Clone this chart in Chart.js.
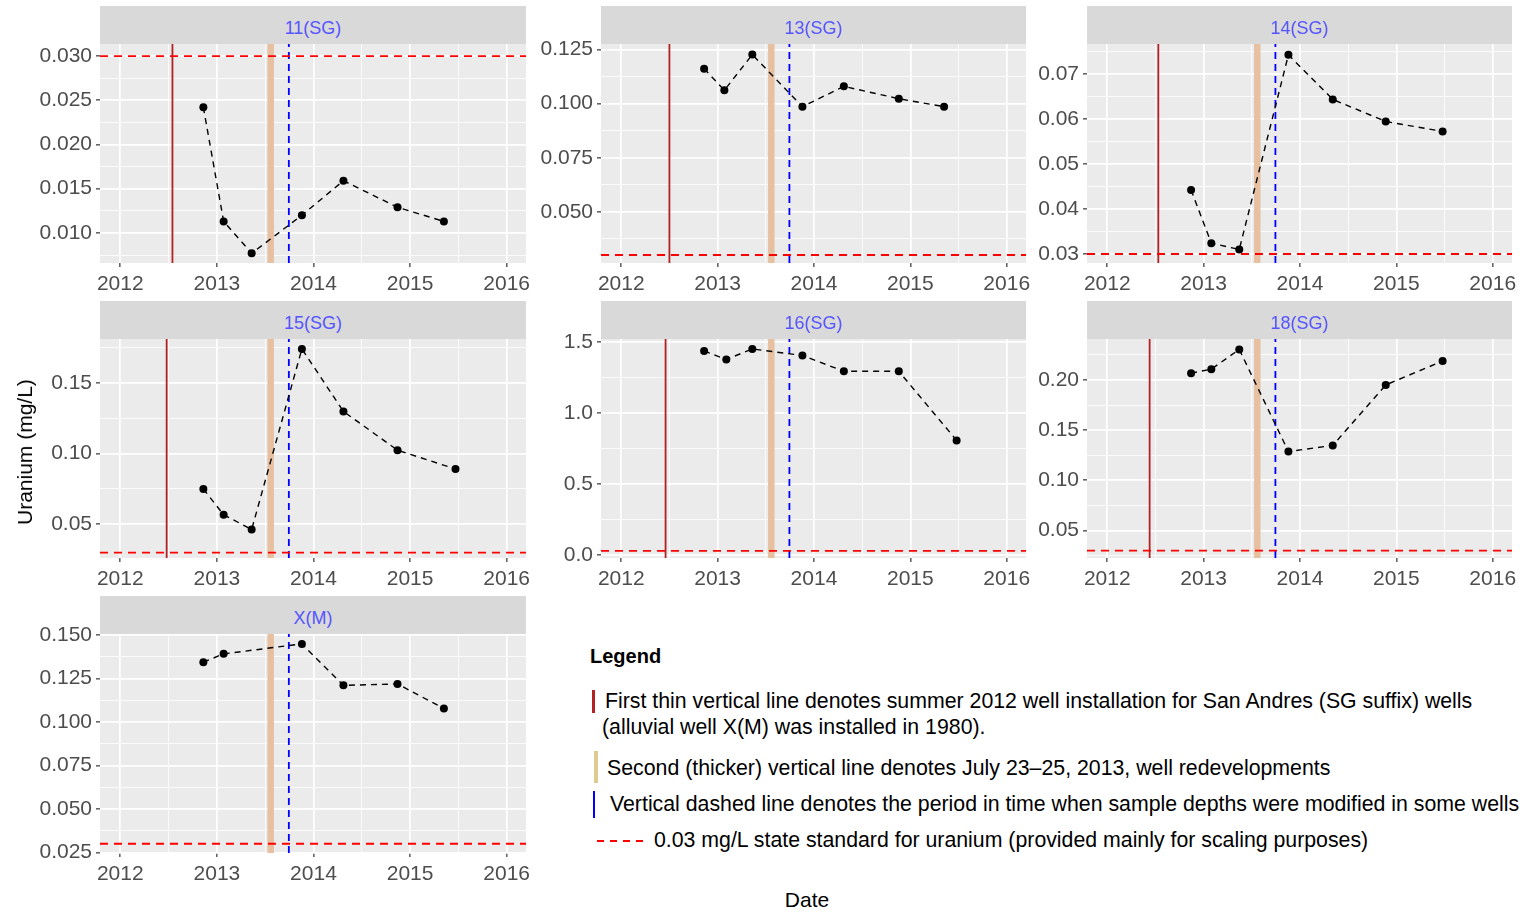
<!DOCTYPE html>
<html>
<head>
<meta charset="utf-8">
<script src="https://cdn.jsdelivr.net/npm/chart.js@4/dist/chart.umd.min.js"></script>
<style>
  body { margin: 0; background: #fff; width: 1526px; height: 913px; position: relative; overflow: hidden;
         font-family: "Liberation Sans", Arial, sans-serif; }
  canvas { position: absolute; }
  .strip { position: absolute; height: 38px; background: #d9d9d9; color: #5555ff; font-size: 18px;
           text-align: center; line-height: 44px; }
  .txt { position: absolute; white-space: nowrap; color: #000; font-size: 21.3px; line-height: 24px; }
  .bar { position: absolute; }
</style>
</head>
<body>
<canvas id="c0" width="530" height="300" style="left:0;top:0"></canvas>
<canvas id="c1" width="500" height="300" style="left:530px;top:0"></canvas>
<canvas id="c2" width="496" height="300" style="left:1030px;top:0"></canvas>
<canvas id="c3" width="530" height="300" style="left:0;top:295px"></canvas>
<canvas id="c4" width="500" height="300" style="left:530px;top:295px"></canvas>
<canvas id="c5" width="496" height="300" style="left:1030px;top:295px"></canvas>
<canvas id="c6" width="530" height="300" style="left:0;top:590px"></canvas>

<div class="txt" style="left:25px;top:452px;font-size:21px;transform:translate(-50%,-50%) rotate(-90deg)">Uranium (mg/L)</div>
<div class="txt" style="left:807px;top:900px;font-size:21px;transform:translate(-50%,-50%)">Date</div>

<div class="txt" style="left:590px;top:644px;font-weight:bold;font-size:20px">Legend</div>
<div class="bar" style="left:592px;top:690px;width:3px;height:23px;background:#b22222"></div>
<div class="txt" style="left:605px;top:689px">First thin vertical line denotes summer 2012 well installation for San Andres (SG suffix) wells</div>
<div class="txt" style="left:602px;top:715px">(alluvial well X(M) was installed in 1980).</div>
<div class="bar" style="left:594px;top:751px;width:4px;height:32px;background:#dfcb92"></div>
<div class="txt" style="left:607px;top:756px">Second (thicker) vertical line denotes July 23–25, 2013, well redevelopments</div>
<div class="bar" style="left:593px;top:791px;width:2px;height:27px;background:#0000ff"></div>
<div class="txt" style="left:610px;top:792px">Vertical dashed line denotes the period in time when sample depths were modified in some wells</div>
<div class="bar" style="left:597px;top:840px;width:46px;height:2px;background:repeating-linear-gradient(to right,#ff0000 0 7px,transparent 7px 13px)"></div>
<div class="txt" style="left:654px;top:828px">0.03 mg/L state standard for uranium (provided mainly for scaling purposes)</div>

<script>
// x axis (decimal years)
const yearLabels = ['2012', '2013', '2014', '2015', '2016'];
const xMin = 2011.79;
const xMax = 2016.20;

// reference lines
const redevelopDate = 2013.557;   // July 23-25, 2013
const depthChangeDate = 2013.745; // sample depth change
const uStandard = 0.03;           // mg/L

// wells, in panel order
const wellNames = ['11(SG)', '13(SG)', '14(SG)', '15(SG)', '16(SG)', '18(SG)', 'X(M)'];
const installDates = [2012.54, 2012.50, 2012.53, 2012.48, 2012.46, 2012.44, null];

const dates11 = [2012.86, 2013.07, 2013.36, 2013.88, 2014.31, 2014.87, 2015.35];
const uranium11 = [0.0242, 0.0113, 0.0077, 0.0120, 0.0159, 0.0129, 0.0113];
const yMin11 = 0.0066, yMax11 = 0.03136;
const yLabels11 = ['0.010', '0.015', '0.020', '0.025', '0.030'];

const dates13 = [2012.86, 2013.07, 2013.36, 2013.88, 2014.31, 2014.88, 2015.35];
const uranium13 = [0.1162, 0.1062, 0.1227, 0.0986, 0.1080, 0.1023, 0.0986];
const yMin13 = 0.0263, yMax13 = 0.1276;
const yLabels13 = ['0.050', '0.075', '0.100', '0.125'];

const dates14 = [2012.87, 2013.08, 2013.37, 2013.88, 2014.34, 2014.89, 2015.48];
const uranium14 = [0.0442, 0.0324, 0.0310, 0.0742, 0.0643, 0.0594, 0.0572];
const yMin14 = 0.0280, yMax14 = 0.0766;
const yLabels14 = ['0.03', '0.04', '0.05', '0.06', '0.07'];

const dates15 = [2012.86, 2013.07, 2013.36, 2013.88, 2014.31, 2014.87, 2015.47];
const uranium15 = [0.0750, 0.0567, 0.0464, 0.1740, 0.1298, 0.1024, 0.0891];
const yMin15 = 0.0262, yMax15 = 0.181;
const yLabels15 = ['0.05', '0.10', '0.15'];

const dates16 = [2012.86, 2013.09, 2013.36, 2013.88, 2014.31, 2014.88, 2015.48];
const uranium16 = [1.436, 1.376, 1.450, 1.404, 1.293, 1.293, 0.807];
const yMin16 = -0.02, yMax16 = 1.52;
const yLabels16 = ['0.0', '0.5', '1.0', '1.5'];

const dates18 = [2012.87, 2013.08, 2013.37, 2013.88, 2014.34, 2014.89, 2015.48];
const uranium18 = [0.2067, 0.2107, 0.2303, 0.1287, 0.1347, 0.1950, 0.2187];
const yMin18 = 0.0227, yMax18 = 0.2407;
const yLabels18 = ['0.05', '0.10', '0.15', '0.20'];

const datesXM = [2012.86, 2013.07, 2013.88, 2014.31, 2014.87, 2015.35];
const uraniumXM = [0.1343, 0.1391, 0.1448, 0.1210, 0.1218, 0.1077];
const yMinXM = 0.0247, yMaxXM = 0.1505;
const yLabelsXM = ['0.025', '0.050', '0.075', '0.100', '0.125', '0.150'];

const panelDates = [dates11, dates13, dates14, dates15, dates16, dates18, datesXM];
const panelValues = [uranium11, uranium13, uranium14, uranium15, uranium16, uranium18, uraniumXM];
const panelYMin = [yMin11, yMin13, yMin14, yMin15, yMin16, yMin18, yMinXM];
const panelYMax = [yMax11, yMax13, yMax14, yMax15, yMax16, yMax18, yMaxXM];
const panelYLabels = [yLabels11, yLabels13, yLabels14, yLabels15, yLabels16, yLabels18, yLabelsXM];

// facet layout
const colLeft = [0, 530, 1030];
const colAxisW = [100, 71, 57];
const colPadR = [4, 4, 14];
const rowTop = [0, 295, 590];

Chart.defaults.font.family = '"Liberation Sans", Arial, sans-serif';
Chart.defaults.font.size = 21;
Chart.defaults.color = '#4d4d4d';

// majors plus ggplot-style minor breaks halfway between
function breaks(majors, lo, hi) {
  const half = (majors[1] - majors[0]) / 2;
  const out = [];
  const cand = [majors[0] - half];
  majors.forEach(m => { cand.push(m, m + half); });
  cand.forEach(v => { if (v >= lo - 1e-9 && v <= hi + 1e-9) out.push(v); });
  return out;
}

function isMajor(v, majors) {
  const tol = Math.abs(majors[1] - majors[0]) * 1e-3;
  return majors.some(m => Math.abs(m - v) < tol);
}

function axisGrid(majors) {
  return {
    color: '#ffffff',
    lineWidth: ctx => (ctx.tick && isMajor(ctx.tick.value, majors)) ? 1.7 : 0.8,
    tickColor: ctx => (ctx.tick && isMajor(ctx.tick.value, majors)) ? '#333333' : 'rgba(0,0,0,0)',
    tickLength: 4,
    tickWidth: 1.2,
  };
}

function vline(x, lo, hi, color, width, dash, order) {
  return {
    data: [{ x: x, y: lo }, { x: x, y: hi }],
    borderColor: color, borderWidth: width, borderDash: dash,
    pointRadius: 0, order: order,
  };
}

const panelBg = {
  id: 'panelBg',
  beforeDraw(chart) {
    const { ctx, chartArea: a } = chart;
    ctx.save();
    ctx.fillStyle = '#ebebeb';
    ctx.fillRect(a.left, a.top, a.right - a.left, a.bottom - a.top);
    ctx.restore();
  },
};

for (let i = 0; i < wellNames.length; i++) {
  const col = i % 3, row = Math.floor(i / 3);
  const lo = panelYMin[i], hi = panelYMax[i];
  const yMajors = panelYLabels[i].map(Number);
  const xMajors = yearLabels.map(Number);
  const yVals = breaks(yMajors, lo, hi);
  const xVals = breaks(xMajors, xMin, xMax);

  const datasets = [
    {
      data: panelDates[i].map((d, k) => ({ x: d, y: panelValues[i][k] })),
      borderColor: '#000000', borderWidth: 1.4, borderDash: [6, 5],
      pointRadius: 4, pointBackgroundColor: '#000000', pointBorderWidth: 0,
      order: 0,
    },
    {
      data: [{ x: xMin, y: uStandard }, { x: xMax, y: uStandard }],
      borderColor: '#ff0000', borderWidth: 1.8, borderDash: [8, 6],
      pointRadius: 0, order: 1,
    },
    vline(depthChangeDate, lo, hi, '#0000ff', 1.8, [7, 5], 2),
    vline(redevelopDate, lo, hi, '#e6c0a0', 6.5, [], 3),
  ];
  if (installDates[i] !== null) {
    datasets.push(vline(installDates[i], lo, hi, '#b22222', 1.8, [], 4));
  }

  const chart = new Chart(document.getElementById('c' + i), {
    type: 'line',
    data: { datasets: datasets },
    options: {
      responsive: false,
      animation: false,
      layout: { padding: { top: 44, right: colPadR[col], left: 0, bottom: 0 }, autoPadding: false },
      scales: {
        x: {
          type: 'linear', min: xMin, max: xMax,
          afterBuildTicks: s => { s.ticks = xVals.map(v => ({ value: v })); },
          afterFit: s => { s.height = 37; s.paddingLeft = 0; s.paddingRight = 0; },
          ticks: {
            padding: 5, maxRotation: 0, autoSkip: false,
            callback: v => {
              const k = xMajors.findIndex(m => Math.abs(m - v) < 1e-6);
              return k >= 0 ? yearLabels[k] : '';
            },
          },
          grid: axisGrid(xMajors),
          border: { display: false },
        },
        y: {
          type: 'linear', min: lo, max: hi,
          afterBuildTicks: s => { s.ticks = yVals.map(v => ({ value: v })); },
          afterFit: s => { s.width = colAxisW[col]; s.paddingTop = 0; s.paddingBottom = 0; },
          ticks: {
            padding: 4, autoSkip: false,
            callback: v => {
              const tol = Math.abs(yMajors[1] - yMajors[0]) * 1e-3;
              const k = yMajors.findIndex(m => Math.abs(m - v) < tol);
              return k >= 0 ? panelYLabels[i][k] : '';
            },
          },
          grid: axisGrid(yMajors),
          border: { display: false },
        },
      },
      plugins: {
        legend: { display: false },
        tooltip: { enabled: false },
      },
    },
    plugins: [panelBg],
  });

  // facet strip above the panel
  const a = chart.chartArea;
  const strip = document.createElement('div');
  strip.className = 'strip';
  strip.style.left = (colLeft[col] + a.left) + 'px';
  strip.style.top = (rowTop[row] + a.top - 38) + 'px';
  strip.style.width = (a.right - a.left) + 'px';
  strip.textContent = wellNames[i];
  document.body.appendChild(strip);
}
</script>
</body>
</html>
